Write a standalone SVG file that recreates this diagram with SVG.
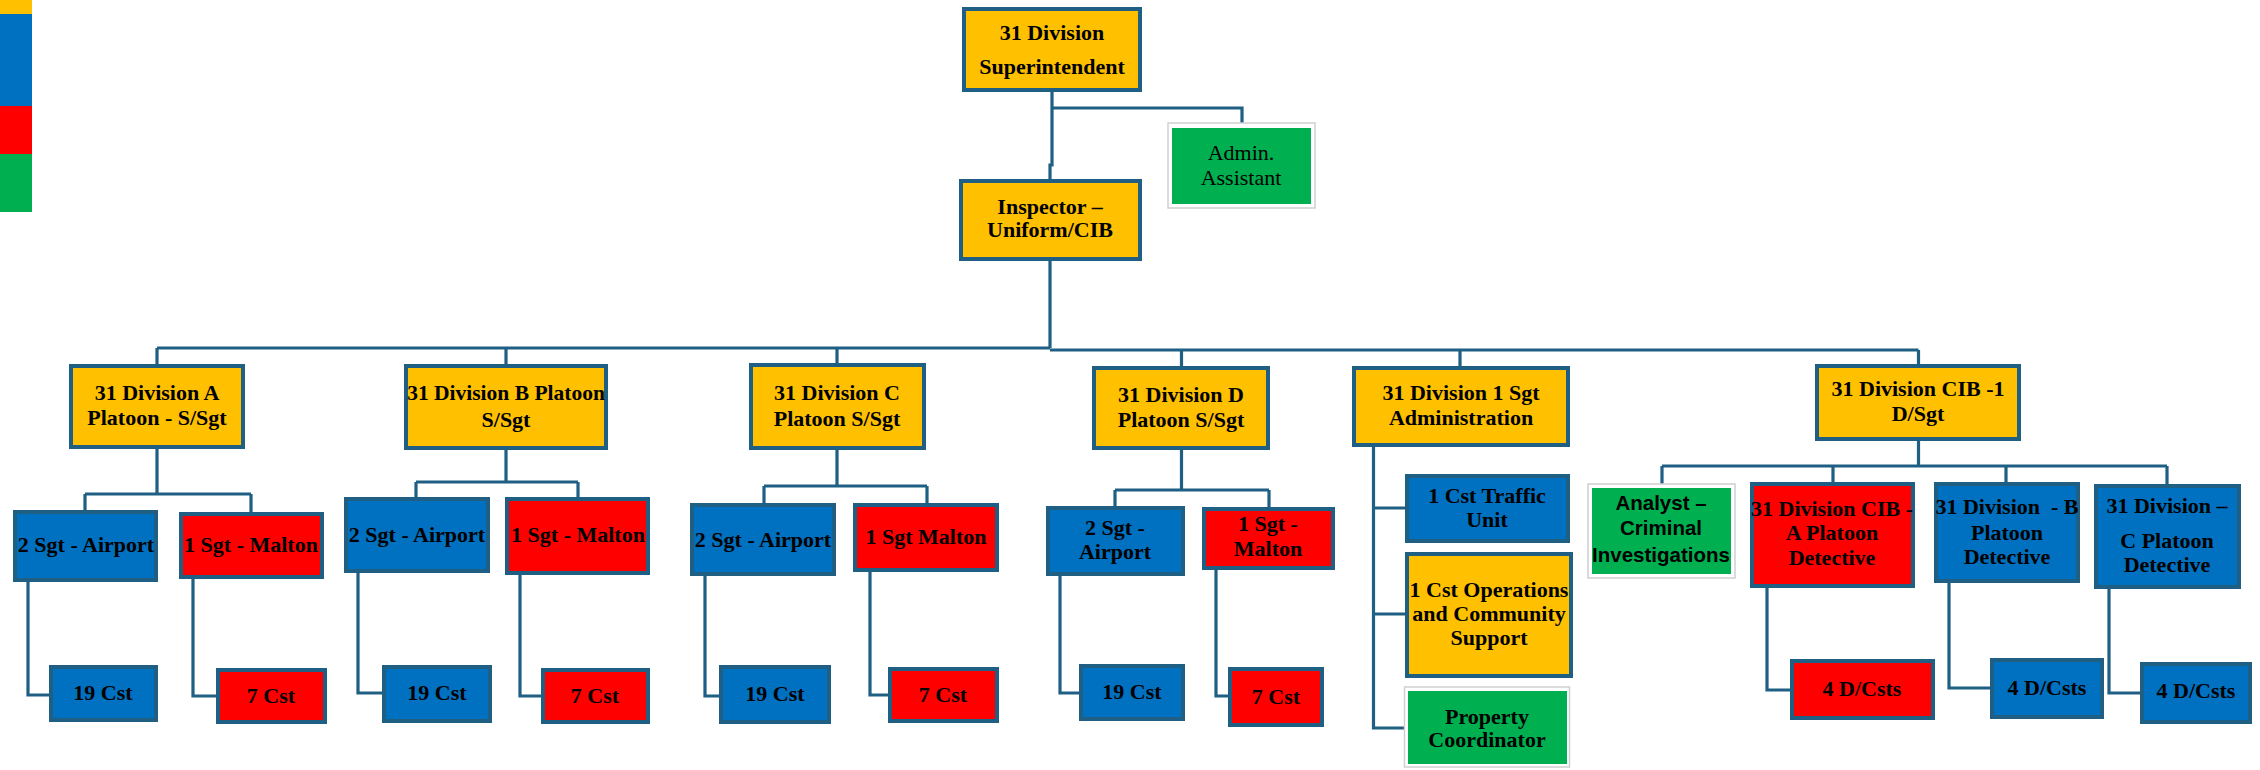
<svg xmlns="http://www.w3.org/2000/svg" width="2260" height="770" viewBox="0 0 2260 770">
<style>
.bx{stroke:#1F5F84;stroke-width:4}
.y{fill:#FFC000}.b{fill:#0070C0}.r{fill:#FF0000}.g{fill:#00B050}
.gb{fill:#fff;stroke:#cfcfcf;stroke-width:1.5}
.t{font-family:"Liberation Serif","Times New Roman",serif;font-weight:bold;font-size:22px;fill:#000;text-anchor:middle}
.n{font-family:"Liberation Serif","Times New Roman",serif;font-size:22px;fill:#000;text-anchor:middle}
.s{font-family:"Liberation Sans",Arial,sans-serif;font-weight:bold;font-size:20.5px;fill:#000;text-anchor:middle}
.c{fill:none;stroke:#1F5F84;stroke-width:3.2}
</style>
<rect width="2260" height="770" fill="#fff"/>
<g id="legend">
<rect x="0" y="0" width="32" height="14" class="y"/>
<rect x="0" y="14" width="32" height="92" class="b"/>
<rect x="0" y="106" width="32" height="48" class="r"/>
<rect x="0" y="154" width="32" height="58" class="g"/>
</g>
<g id="connectors">
<path class="c" d="M1052,92 V108 H1242 V123 M1052,108 V165 H1050 V179"/>
<path class="c" d="M1050,261 V348"/>
<path class="c" d="M157,348 H1050 M1050,350 H1918.5"/>
<path class="c" d="M157,348 V364 M506,348 V364 M837,348 V363 M1181.5,350 V366 M1460,350 V366 M1918.5,350 V364"/>
<path class="c" d="M157,449 V494 M85,494 H251 M85,494 V510 M251,494 V512"/>
<path class="c" d="M28,582 V695 H49 M193,579 V696 H216"/>
<path class="c" d="M506,450 V482 M416,482 H578 M416,482 V497 M578,482 V497"/>
<path class="c" d="M358,573 V693 H382 M520,575 V696 H541"/>
<path class="c" d="M837,450 V486 M764,486 H927 M764,486 V503 M927,486 V503"/>
<path class="c" d="M705,576 V696 H719 M870,572 V695 H888"/>
<path class="c" d="M1181.5,450 V490 M1115,490 H1269 M1115,490 V506 M1269,490 V507"/>
<path class="c" d="M1060,576 V693 H1079 M1216,570 V696 H1228"/>
<path class="c" d="M1373.5,447 V728 H1404 M1373.5,508 H1405 M1373.5,614 H1405"/>
<path class="c" d="M1918.5,441 V466 M1662,466 H2167 M1662,466 V484 M1833,466 V482 M2006,466 V482 M2167,466 V484"/>
<path class="c" d="M1767,588 V690 H1790 M1949,583 V688 H1990 M2109,589 V693 H2140"/>
</g>
<g id="superintendent"><rect x="964" y="9" width="176" height="81" class="y bx"/><text class="t" x="1052" y="40">31 Division</text><text class="t" x="1052" y="74">Superintendent</text></g>
<g id="admin-assistant"><rect x="1168" y="123" width="147" height="85" class="gb"/><rect x="1172" y="128" width="139" height="76" class="g"/><text class="n" x="1241" y="160">Admin.</text><text class="n" x="1241" y="185">Assistant</text></g>
<g id="inspector"><rect x="961" y="181" width="179" height="78" class="y bx"/><text class="t" x="1050" y="214">Inspector –</text><text class="t" x="1050" y="237">Uniform/CIB</text></g>

<g id="platoon-a"><rect x="71" y="366" width="172" height="81" class="y bx"/><text class="t" x="157" y="400">31 Division A</text><text class="t" x="157" y="425">Platoon - S/Sgt</text></g>
<g id="platoon-b"><rect x="406" y="366" width="200" height="82" class="y bx"/><text class="t" x="506" y="400" style="font-size:21.5px">31 Division B Platoon</text><text class="t" x="506" y="427">S/Sgt</text></g>
<g id="platoon-c"><rect x="751" y="365" width="173" height="83" class="y bx"/><text class="t" x="837" y="400">31 Division C</text><text class="t" x="837" y="426">Platoon S/Sgt</text></g>
<g id="platoon-d"><rect x="1094" y="368" width="174" height="80" class="y bx"/><text class="t" x="1181" y="402">31 Division D</text><text class="t" x="1181" y="427">Platoon S/Sgt</text></g>
<g id="admin-sgt"><rect x="1354" y="368" width="214" height="77" class="y bx"/><text class="t" x="1461" y="400">31 Division 1 Sgt</text><text class="t" x="1461" y="425">Administration</text></g>
<g id="cib"><rect x="1817" y="366" width="202" height="73" class="y bx"/><text class="t" x="1918" y="396">31 Division CIB -1</text><text class="t" x="1918" y="421">D/Sgt</text></g>

<g id="a-airport"><rect x="15" y="512" width="141" height="68" class="b bx"/><text class="t" x="86" y="552">2 Sgt - Airport</text></g>
<g id="a-malton"><rect x="181" y="514" width="141" height="63" class="r bx"/><text class="t" x="251" y="552">1 Sgt - Malton</text></g>
<g id="a-19cst"><rect x="51" y="667" width="105" height="53" class="b bx"/><text class="t" x="103" y="700">19 Cst</text></g>
<g id="a-7cst"><rect x="218" y="670" width="107" height="52" class="r bx"/><text class="t" x="271" y="703">7 Cst</text></g>

<g id="b-airport"><rect x="346" y="499" width="142" height="72" class="b bx"/><text class="t" x="417" y="542">2 Sgt - Airport</text></g>
<g id="b-malton"><rect x="507" y="499" width="141" height="74" class="r bx"/><text class="t" x="578" y="542">1 Sgt - Malton</text></g>
<g id="b-19cst"><rect x="384" y="667" width="106" height="54" class="b bx"/><text class="t" x="437" y="700">19 Cst</text></g>
<g id="b-7cst"><rect x="543" y="670" width="105" height="52" class="r bx"/><text class="t" x="595" y="703">7 Cst</text></g>

<g id="c-airport"><rect x="692" y="505" width="142" height="69" class="b bx"/><text class="t" x="763" y="547">2 Sgt - Airport</text></g>
<g id="c-malton"><rect x="855" y="505" width="142" height="65" class="r bx"/><text class="t" x="926" y="544">1 Sgt Malton</text></g>
<g id="c-19cst"><rect x="721" y="667" width="108" height="55" class="b bx"/><text class="t" x="775" y="701">19 Cst</text></g>
<g id="c-7cst"><rect x="890" y="669" width="107" height="52" class="r bx"/><text class="t" x="943" y="702">7 Cst</text></g>

<g id="d-airport"><rect x="1048" y="508" width="135" height="66" class="b bx"/><text class="t" x="1115" y="535">2 Sgt -</text><text class="t" x="1115" y="559">Airport</text></g>
<g id="d-malton"><rect x="1204" y="509" width="129" height="59" class="r bx"/><text class="t" x="1268" y="531">1 Sgt -</text><text class="t" x="1268" y="556">Malton</text></g>
<g id="d-19cst"><rect x="1081" y="666" width="102" height="53" class="b bx"/><text class="t" x="1132" y="699">19 Cst</text></g>
<g id="d-7cst"><rect x="1230" y="669" width="92" height="56" class="r bx"/><text class="t" x="1276" y="704">7 Cst</text></g>

<g id="traffic"><rect x="1407" y="476" width="161" height="65" class="b bx"/><text class="t" x="1487" y="503">1 Cst Traffic</text><text class="t" x="1487" y="527">Unit</text></g>
<g id="operations"><rect x="1407" y="554" width="164" height="122" class="y bx"/><text class="t" x="1489" y="597">1 Cst Operations</text><text class="t" x="1489" y="621">and Community</text><text class="t" x="1489" y="645">Support</text></g>
<g id="property"><rect x="1404.5" y="687" width="165" height="80" class="gb"/><rect x="1408" y="691" width="159" height="73" class="g"/><text class="t" x="1487" y="724">Property</text><text class="t" x="1487" y="747">Coordinator</text></g>

<g id="analyst"><rect x="1588" y="484" width="147" height="94" class="gb"/><rect x="1592" y="488" width="139" height="86" class="g"/><text class="s" x="1661" y="510">Analyst –</text><text class="s" x="1661" y="535">Criminal</text><text class="s" x="1661" y="562">Investigations</text></g>
<g id="cib-a"><rect x="1752" y="484" width="161" height="102" class="r bx"/><text class="t" x="1832" y="516">31 Division CIB -</text><text class="t" x="1832" y="540">A Platoon</text><text class="t" x="1832" y="565">Detective</text></g>
<g id="cib-b"><rect x="1936" y="484" width="142" height="97" class="b bx"/><text class="t" x="2007" y="514" xml:space="preserve">31 Division  - B</text><text class="t" x="2007" y="540">Platoon</text><text class="t" x="2007" y="564">Detective</text></g>
<g id="cib-c"><rect x="2096" y="486" width="143" height="101" class="b bx"/><text class="t" x="2167" y="513">31 Division –</text><text class="t" x="2167" y="548">C Platoon</text><text class="t" x="2167" y="572">Detective</text></g>
<g id="cib-a-dcsts"><rect x="1792" y="661" width="141" height="57" class="r bx"/><text class="t" x="1862" y="696">4 D/Csts</text></g>
<g id="cib-b-dcsts"><rect x="1992" y="660" width="110" height="57" class="b bx"/><text class="t" x="2047" y="695">4 D/Csts</text></g>
<g id="cib-c-dcsts"><rect x="2142" y="664" width="108" height="58" class="b bx"/><text class="t" x="2196" y="698">4 D/Csts</text></g>
</svg>
